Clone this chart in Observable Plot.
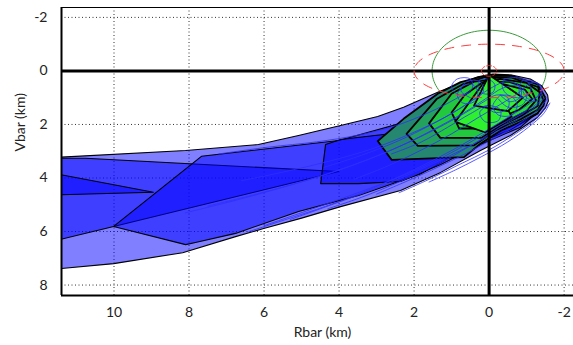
<!DOCTYPE html>
<html>
<head>
<meta charset="utf-8">
<script src="https://cdn.jsdelivr.net/npm/d3@7"></script>
<script src="https://cdn.jsdelivr.net/npm/@observablehq/plot@0.6"></script>
<style>
  body { margin: 0; background: #fff; }
</style>
</head>
<body>
<div id="chart"></div>
<script>
// Axis ticks (km)
const rbarTicks = [10, 8, 6, 4, 2, 0, -2];
const vbarTicks = [-2, 0, 2, 4, 6, 8];
const rbarDomain = [11.4, -2.25];
const vbarDomain = [8.39, -2.37];

// Dispersion hulls of the early approach phase, [Rbar, Vbar] in km
const hullEnvelope = [[12.5,3.25],[11.4,3.22],[8.09,2.97],[6.15,2.75],[5.08,2.41],[3.96,2.04],[2.97,1.7],[2.28,1.36],[1.37,0.8],[0.76,0.45],[0.3,0.22],[-0.1,0.12],[-0.6,0.15],[-1.1,0.3],[-1.4,0.55],[-1.56,0.9],[-1.58,1.12],[-1.5,1.38],[-1.29,1.74],[-0.57,2.41],[0.23,2.97],[1.29,3.79],[2.36,4.47],[3.96,5.07],[5.0,5.5],[6.01,5.89],[6.76,6.19],[8.17,6.79],[10.01,7.2],[11.4,7.38],[12.5,7.45]];
const hullWedge = [[12.23,3.27],[10.76,3.26],[4.01,3.76],[10.01,5.81],[12.23,6.57]];
const hullTail = [[12.23,3.66],[8.95,4.53],[12.23,4.66]];
const hullMid = [[10.01,5.81],[7.67,3.19],[4.01,2.6],[2.36,1.96],[1.29,1.3],[0.49,0.75],[-0.31,0.45],[-1.11,0.7],[-1.45,1.15],[-1.3,1.6],[-0.57,2.2],[0.49,2.8],[1.83,3.85],[3.48,4.65],[5.08,5.25],[6.76,6.07],[7.83,6.41],[8.09,6.49]];
const hullLate = [[4.36,2.75],[3.96,2.56],[2.36,2.3],[1.29,1.7],[0.23,1.2],[-0.84,1.25],[-1.24,1.6],[-0.84,2.1],[0.23,2.75],[1.29,3.5],[2.36,4.13],[3.48,4.21],[4.49,4.21]];
const blueHulls = [hullEnvelope, hullWedge, hullTail, hullMid, hullLate];

// Dispersion hulls of the final phase, [Rbar, Vbar] in km
const finalHull1 = [[2.97,2.62],[2.28,1.79],[1.37,0.85],[0.76,0.42],[0.1,0.18],[-0.6,0.18],[-1.3,0.5],[-1.5,1.0],[-1.45,1.3],[-1.29,1.58],[-0.84,1.9],[-0.31,2.23],[0.23,2.72],[0.67,3.22],[2.6,3.32]];
const finalHull2 = [[2.2,2.35],[1.4,1.05],[0.7,0.5],[0.1,0.22],[-0.6,0.25],[-1.3,0.6],[-1.45,1.1],[-1.3,1.45],[-0.84,1.8],[-0.2,2.2],[0.4,2.78],[1.9,2.8]];
const finalHull3 = [[1.6,1.96],[1.0,0.85],[0.4,0.4],[-0.3,0.3],[-1.0,0.45],[-1.35,0.8],[-1.3,1.3],[-0.9,1.65],[-0.3,2.05],[0.2,2.5],[1.3,2.5]];
const finalHull4 = [[1.0,1.55],[0.65,0.9],[0.2,0.45],[-0.5,0.4],[-1.1,0.65],[-1.25,1.1],[-1.0,1.5],[-0.5,1.85],[0.0,2.15],[0.8,2.15]];
const finalHull5 = [[0.5,1.2],[0.15,0.55],[-0.4,0.5],[-0.95,0.7],[-1.15,1.05],[-0.8,1.45],[-0.2,1.8],[0.35,1.8]];
const finalHull6 = [[0.0,0.15],[0.9,1.9],[0.1,2.3],[-0.6,1.7]];
const finalHull7 = [[0.0,0.15],[0.4,1.3],[-0.5,1.5],[-0.9,1.0]];
const greenHulls = [finalHull1, finalHull2, finalHull3, finalHull4, finalHull5, finalHull6, finalHull7];
const greenShades = ["#25876f", "#24a15c", "#22c83e", "#22e026", "#28ec28", "#2ef02e", "#36f236"];

// Sample trajectories, [Rbar, Vbar] in km
const trajectories = [
  [[8.1,5.3],[6.8,4.85],[5.5,4.35],[4.3,3.85],[3.2,3.3],[2.2,2.7],[1.3,2.05],[0.6,1.5],[0.05,1.0],[-0.35,0.65],[-0.75,0.55],[-1.0,0.85],[-0.9,1.25],[-0.5,1.35],[-0.25,1.05]],
  [[6.6,4.1],[5.4,3.75],[4.2,3.35],[3.1,2.9],[2.1,2.35],[1.2,1.75],[0.55,1.2],[0.15,0.75],[0.25,0.4],[0.6,0.4],[0.75,0.75],[0.5,1.0]],
  [[6.4,6.0],[5.2,5.45],[4.0,4.88],[2.8,4.2],[1.8,3.55],[0.9,2.9],[0.1,2.25],[-0.6,1.65],[-1.1,1.2],[-1.35,0.85]],
  [[6.0,5.78],[4.7,5.15],[3.4,4.5],[2.2,3.85],[1.2,3.2],[0.3,2.5],[-0.5,1.85],[-1.2,1.3],[-1.5,1.0]],
  [[5.3,5.55],[4.2,5.0],[3.0,4.38],[1.9,3.72],[0.8,3.0],[-0.1,2.35],[-0.9,1.7],[-1.35,1.2]],
  [[4.3,5.15],[3.4,4.72],[2.4,4.15],[1.4,3.5],[0.5,2.8],[-0.3,2.1],[-1.0,1.5]],
  [[2.4,4.55],[1.6,4.05],[0.8,3.5],[0.0,2.95],[-0.7,2.35],[-1.25,1.8],[-1.58,1.25]],
  [[1.6,4.15],[0.9,3.7],[0.2,3.2],[-0.5,2.65],[-1.05,2.1],[-1.45,1.6],[-1.62,1.2]],
  [[7.2,3.1],[5.9,2.85],[4.6,2.65],[3.5,2.4],[2.5,2.05],[1.6,1.55],[0.9,1.05],[0.45,0.65],[0.5,0.3],[0.85,0.3],[1.0,0.6],[0.8,0.9],[0.5,0.8]],
  [[4.4,3.6],[3.4,3.15],[2.4,2.6],[1.6,2.05],[0.95,1.55],[0.4,1.05],[-0.1,0.6],[-0.45,0.4],[-0.8,0.55],[-0.85,0.95],[-0.55,1.15],[-0.3,0.9]],
  [[3.6,4.05],[2.7,3.55],[1.8,2.95],[1.0,2.35],[0.3,1.75],[-0.3,1.25],[-0.8,0.8],[-1.1,0.45],[-1.35,0.5],[-1.35,0.9],[-1.05,1.05],[-0.9,0.75]],
  [[2.6,3.1],[1.8,2.65],[1.1,2.1],[0.5,1.6],[0.05,1.3],[-0.3,1.45],[-0.25,1.85],[0.1,1.9],[0.25,1.55],[0.0,1.25]],
  [[7.5,5.05],[6.2,4.6],[4.9,4.1],[3.7,3.55],[2.6,2.95],[1.6,2.3],[0.8,1.7],[0.2,1.2],[-0.2,0.9],[-0.5,1.0],[-0.5,1.4],[-0.15,1.55],[0.1,1.3]],
  [[3.0,4.6],[2.0,4.0],[1.0,3.35],[0.1,2.7],[-0.7,2.05],[-1.3,1.45],[-1.55,1.05]],
  [[-0.4,0.3],[-0.75,0.25],[-1.05,0.45],[-1.1,0.8],[-0.85,1.0],[-0.5,0.9],[-0.35,0.6],[-0.4,0.3]],
  [[0.25,0.35],[0.05,0.3],[-0.15,0.5],[-0.1,0.8],[0.15,0.85],[0.3,0.6],[0.25,0.35]],
  [[-0.9,0.35],[-1.2,0.4],[-1.4,0.7],[-1.35,1.05],[-1.1,1.15],[-0.85,0.95],[-0.8,0.6],[-0.9,0.35]],
  [[0.7,0.55],[0.45,0.5],[0.3,0.8],[0.4,1.15],[0.7,1.2],[0.85,0.9],[0.7,0.55]],
  [[-0.3,0.9],[-0.6,0.95],[-0.75,1.3],[-0.6,1.65],[-0.25,1.65],[-0.1,1.3],[-0.3,0.9]]
];

// Keep-out zones centred on the target: semi-axes [Rbar, Vbar] in km
const approachEllipsoid = [2.0, 1.0];
const keepOutSphere = [1.52, 1.52];
const innerSphere = [0.2, 0.2];

const ellipsePath = ([a, b]) => d3.range(0, 361, 3).map(t => [a * Math.cos(t * Math.PI / 180), b * Math.sin(t * Math.PI / 180)]);
const trajRows = trajectories.flatMap((t, i) => t.map(([r, v]) => ({i, r, v})));

const hullMark = (poly, fill, strokeWidth) => Plot.line(poly, {
  x: d => d[0], y: d => d[1], curve: "linear-closed",
  fill, fillOpacity: fill === "blue" ? 0.5 : 1,
  stroke: "black", strokeWidth, strokeLinejoin: "round", clip: true
});

const chart = Plot.plot({
  width: 573,
  height: 345,
  marginLeft: 61,
  marginRight: 0,
  marginTop: 7,
  marginBottom: 50,
  x: {domain: rbarDomain},
  y: {domain: vbarDomain},
  style: {fontFamily: "Lato, 'Open Sans', sans-serif", fontSize: "14px", color: "#222", background: "#fff", overflow: "visible"},
  marks: [
    Plot.gridX({ticks: rbarTicks.filter(d => d !== 0), stroke: "#333", strokeOpacity: 1, strokeDasharray: "1,2.5"}),
    Plot.gridY({ticks: vbarTicks.filter(d => d !== 0), stroke: "#333", strokeOpacity: 1, strokeDasharray: "1,2.5"}),
    Plot.line(ellipsePath(keepOutSphere), {x: d => d[0], y: d => d[1], stroke: "#3a9a3a", strokeWidth: 1, clip: true}),
    ...blueHulls.map(h => hullMark(h, "blue", 1.1)),
    ...greenHulls.map((h, i) => hullMark(h, greenShades[i], 1.8)),
    Plot.line(trajRows, {x: "r", y: "v", z: "i", curve: "catmull-rom", stroke: "#2f2fff", strokeWidth: 0.8, clip: true}),
    Plot.ruleX([0], {stroke: "black", strokeWidth: 3}),
    Plot.ruleY([0], {stroke: "black", strokeWidth: 3}),
    Plot.line(ellipsePath(approachEllipsoid), {x: d => d[0], y: d => d[1], stroke: "#ff3a3a", strokeWidth: 1, strokeDasharray: "9,8", clip: true}),
    Plot.line(ellipsePath(innerSphere), {x: d => d[0], y: d => d[1], stroke: "#ff3030", strokeWidth: 1, strokeDasharray: "5,2"}),
    Plot.ruleX([rbarDomain[0]], {stroke: "black", strokeWidth: 2}),
    Plot.ruleY([vbarDomain[0]], {stroke: "black", strokeWidth: 2}),
    Plot.ruleY([vbarDomain[1]], {stroke: "black", strokeWidth: 1}),
    Plot.axisX({ticks: rbarTicks, tickSize: 0, tickPadding: 12, tickFormat: d => String(d), label: null, fontSize: 14}),
    Plot.axisY({ticks: vbarTicks, tickSize: 0, tickPadding: 14, tickFormat: d => String(d), label: null, fontSize: 14}),
    Plot.text(["Rbar (km)"], {frameAnchor: "bottom", dx: 5, dy: 37, text: d => d, fontSize: 14, lineAnchor: "middle", fill: "#222"}),
    Plot.text(["Vbar (km)"], {frameAnchor: "left", dx: -41, rotate: -90, text: d => d, fontSize: 14, lineAnchor: "middle", fill: "#222"})
  ]
});
document.getElementById("chart").appendChild(chart);
</script>
</body>
</html>
